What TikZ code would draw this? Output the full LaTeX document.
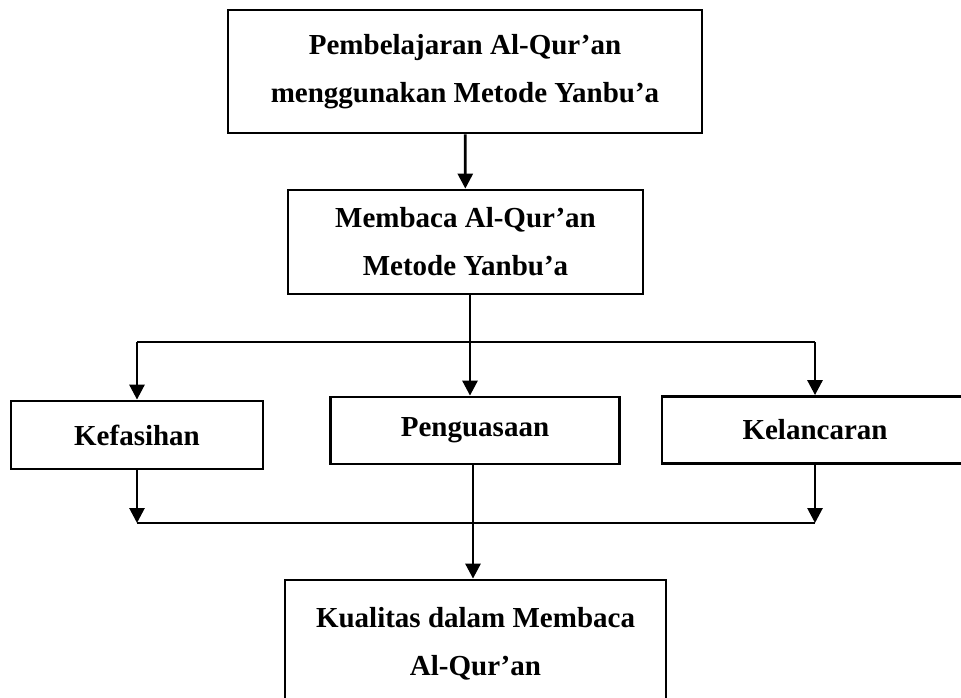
\documentclass[tikz,border=0pt]{standalone}
\usepackage{fontspec}
\setmainfont{Liberation Serif}
\usetikzlibrary{arrows.meta}

\begin{document}
\begin{tikzpicture}
		[x=1pt, y=-1pt,
		kotak/.style={rectangle, draw=black, line width=2.8pt, inner sep=0pt, align=center,
			font=\bfseries\fontsize{29}{48}\selectfont},
		garis/.style={line width=2.8pt},
		panah/.style={garis, -{Triangle[width=15pt, length=15pt]}}]
		\useasboundingbox (0,0) rectangle (961,698);
		\clip (0,0) rectangle (961,698);

		\node[kotak, minimum width=474pt, minimum height=123pt] (judul) at (465,71.5)
			{Pembelajaran Al-Qur’an\\menggunakan Metode Yanbu’a};
		\node[kotak, minimum width=355pt, minimum height=104pt] (baca) at (465.5,242)
			{Membaca Al-Qur’an\\Metode Yanbu’a};

		\node[kotak, minimum width=252pt, minimum height=68pt] (fasih) at (137,435) {Kefasihan};
		\node[kotak, minimum width=289pt, minimum height=67pt] (kuasa) at (475,430.5) {Penguasaan};
		\node[kotak, minimum width=306pt, minimum height=67pt] (lancar) at (815,430) {Kelancaran};

		\node[kotak, minimum width=381pt, minimum height=128pt] (kualitas) at (475.5,644)
			{Kualitas dalam Membaca\\Al-Qur’an};

		\coordinate (atas) at (470,342);
		\coordinate (bawah) at (473,523);

		\draw[panah] (judul) -- (baca);

		\draw[garis] (baca.south -| atas) -- (atas);
		\draw[garis] (fasih.north |- atas) -- (lancar.north |- atas);
		\draw[panah] (atas) -- (atas |- kuasa.north);
		\draw[panah] (fasih.north |- atas) -- (fasih.north);
		\draw[panah] (lancar.north |- atas) -- (lancar.north);

		\draw[panah] (fasih.south) -- (fasih.south |- bawah);
		\draw[panah] (lancar.south) -- (lancar.south |- bawah);
		\draw[garis] (fasih.south |- bawah) -- (lancar.south |- bawah);
		\draw[panah] (kuasa.south -| bawah) -- (kualitas.north -| bawah);
	\end{tikzpicture}
\end{document}
